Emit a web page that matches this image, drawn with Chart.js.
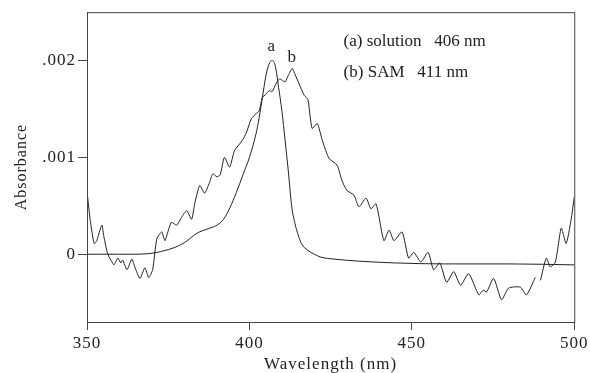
<!DOCTYPE html>
<html>
<head>
<meta charset="utf-8">
<script src="https://cdn.jsdelivr.net/npm/chart.js@4.4.1/dist/chart.umd.min.js"></script>
<style>
  html, body { margin: 0; padding: 0; background: #fff; }
  #wrap { width: 590px; height: 373px; }
</style>
</head>
<body>
<div id="wrap"><canvas id="spectrum"></canvas></div>
<script>
// (a) solution spectrum
var solWave = [350, 355, 360, 365, 370, 373, 377, 380, 384, 387, 390, 392, 394, 396, 398, 400, 402, 403, 404, 405, 406, 407, 408, 409, 410, 411, 412, 413, 414, 415, 416, 418, 420, 422, 426, 433, 445, 460, 480, 500];
var solAbs = [0, 0, 0, 0, 0.00001, 0.00003, 0.00007, 0.00012, 0.00022, 0.00026, 0.0003, 0.00036, 0.00048, 0.00064, 0.00082, 0.001, 0.00124, 0.00141, 0.00162, 0.00183, 0.00196, 0.002, 0.00194, 0.00172, 0.00148, 0.00117, 0.00085, 0.0005, 0.00032, 0.0002, 0.00011, 0.00004, 0, -0.00003, -0.00005, -0.00007, -0.00009, -0.0001, -0.0001, -0.00011];

// (b) SAM spectrum
var samWave = [350, 351, 352.2, 353, 354, 354.6, 355.2, 356.4, 357.7, 358.3, 359.5, 360.4, 361, 362.3, 363.8, 364.7, 366.3, 367.8, 369, 370.2, 371.5, 373, 374, 374.8, 376, 377.6, 379.1, 380.7, 382.2, 383.2, 384.7, 386.2, 387.7, 388.7, 390, 391, 392.3, 393.9, 395.4, 397, 397.9, 399, 400.6, 402, 403, 404, 405, 406.1, 407, 408.3, 409.2, 410, 411, 412, 413.2, 414, 415.3, 416.9, 418, 419.3, 420.9, 422.4, 424.5, 427, 428.5, 430, 432.2, 433.7, 435.9, 437.4, 439, 441.4, 443, 444.5, 447, 449, 450.6, 452.8, 455, 456.7, 458.6, 460.7, 462.9, 465, 467.5, 470.6, 472, 473, 475.2, 477.6, 479.8, 483.4, 485.3, 488, 488.8, 489.6, 491.4, 492.6, 494.2, 496, 497.5, 499, 500];
var samAbs = [0.00065, 0.00035, 0.00011, 0.00014, 0.00025, 0.0003, 0.00018, 0, -0.00008, -0.00011, -0.00004, -0.00009, -0.00006, -0.00016, -0.00005, -0.00013, -0.00025, -0.00014, -0.00024, -0.00016, 0.00016, 0.00023, 0.00014, 0.00022, 0.00033, 0.0003, 0.00038, 0.00045, 0.00036, 0.00053, 0.00071, 0.00063, 0.00074, 0.00083, 0.0008, 0.00082, 0.001, 0.0009, 0.00107, 0.00114, 0.00118, 0.00125, 0.0014, 0.00145, 0.00148, 0.00162, 0.00165, 0.00169, 0.00168, 0.00177, 0.00181, 0.0018, 0.00178, 0.00185, 0.00192, 0.00186, 0.00176, 0.00164, 0.0016, 0.0013, 0.00135, 0.00118, 0.00099, 0.00092, 0.00076, 0.00066, 0.00061, 0.00049, 0.00058, 0.00047, 0.00052, 0.00014, 0.00025, 0.00014, 0.00023, -0.00004, 0.00002, -0.00008, 0.00002, -0.00016, -0.00009, -0.00029, -0.00018, -0.00032, -0.0002, -0.00042, -0.00037, -0.00039, -0.00025, -0.00047, -0.00035, -0.00034, -0.00042, -0.00024, null, -0.00027, -0.00004, -0.00013, -0.00008, 0.00027, 0.00011, 0.00035, 0.00059];

var xTicks = [350, 400, 450, 500];
var yTicks = [0, 0.001, 0.002];
var yTickLabels = ["0", ".001", ".002"];

var notes = [
    {text: "a", x: 406.7, y: 0.00215, align: "center"},
    {text: "b", x: 413, y: 0.00203, align: "center"},
    {text: "(a) solution   406 nm", x: 429, y: 0.0022, align: "left"},
    {text: "(b) SAM   411 nm", x: 429, y: 0.00188, align: "left"}
];

function pairs(xs, ys) {
    return xs.map(function(x, i){ return {x: x, y: ys[i]}; });
}

Chart.defaults.font.family = "'Liberation Serif', 'Times New Roman', serif";
Chart.defaults.color = "#222";

var ink = "#222";

//frame round the plot + the text notes
var framePlugin = {
    id: "frame",
    beforeDraw: function(chart){
        chart.ctx.letterSpacing = "1px";
    },
    afterDraw: function(chart){
        var c = chart.ctx, a = chart.chartArea;
        var sx = chart.scales.x, sy = chart.scales.y;
        c.save();
        c.strokeStyle = "#444";
        c.lineWidth = 1;
        c.strokeRect(a.left + 0.5, a.top + 0.5, a.right - a.left, a.bottom - a.top);
        c.fillStyle = ink;
        c.font = "17px 'Liberation Serif', serif";
        c.textBaseline = "middle";
        c.letterSpacing = "0px";
        notes.forEach(function(n){
            c.textAlign = n.align;
            c.fillText(n.text, sx.getPixelForValue(n.x), sy.getPixelForValue(n.y));
        });
        c.restore();
    }
};

var ctx = document.getElementById("spectrum");

var chart = new Chart(ctx, {
    type: "line",
    data: {
        datasets: [
            {
                label: "(a) solution",
                data: pairs(solWave, solAbs),
                borderColor: ink,
                borderWidth: 1,
                pointRadius: 0,
                cubicInterpolationMode: "monotone"
            },
            {
                label: "(b) SAM",
                data: pairs(samWave, samAbs),
                borderColor: ink,
                borderWidth: 1,
                pointRadius: 0,
                tension: 0.2,
                spanGaps: false
            }
        ]
    },
    options: {
        responsive: true,
        maintainAspectRatio: false,
        animation: false,
        layout: { padding: { top: 12, right: 13, left: 0, bottom: 0 } },
        plugins: {
            legend: { display: false },
            tooltip: { enabled: false }
        },
        scales: {
            x: {
                type: "linear",
                min: 350,
                max: 500,
                afterBuildTicks: function(s){ s.ticks = xTicks.map(function(v){ return {value: v}; }); },
                afterFit: function(s){ s.height = 51; },
                grid: { drawOnChartArea: false, tickLength: 8, color: "#444" },
                border: { color: "#444" },
                ticks: { font: { size: 17 }, padding: 3, maxRotation: 0, color: ink },
                title: {
                    display: true,
                    text: "Wavelength (nm)",
                    font: { size: 17 },
                    color: ink,
                    padding: { top: 0, bottom: -2 }
                }
            },
            y: {
                min: -0.0007,
                max: 0.0025,
                afterBuildTicks: function(s){ s.ticks = yTicks.map(function(v){ return {value: v}; }); },
                afterFit: function(s){ s.width = 87; },
                grid: { drawOnChartArea: false, tickLength: 9, color: "#444" },
                border: { color: "#444" },
                ticks: {
                    font: { size: 17 },
                    padding: 2,
                    color: ink,
                    callback: function(v){
                        var i = yTicks.indexOf(v);
                        return i >= 0 ? yTickLabels[i] : "";
                    }
                },
                title: {
                    display: true,
                    text: "Absorbance",
                    font: { size: 16 },
                    color: ink,
                    padding: { top: 12, bottom: 0 }
                }
            }
        }
    },
    plugins: [framePlugin]
});
</script>
</body>
</html>
